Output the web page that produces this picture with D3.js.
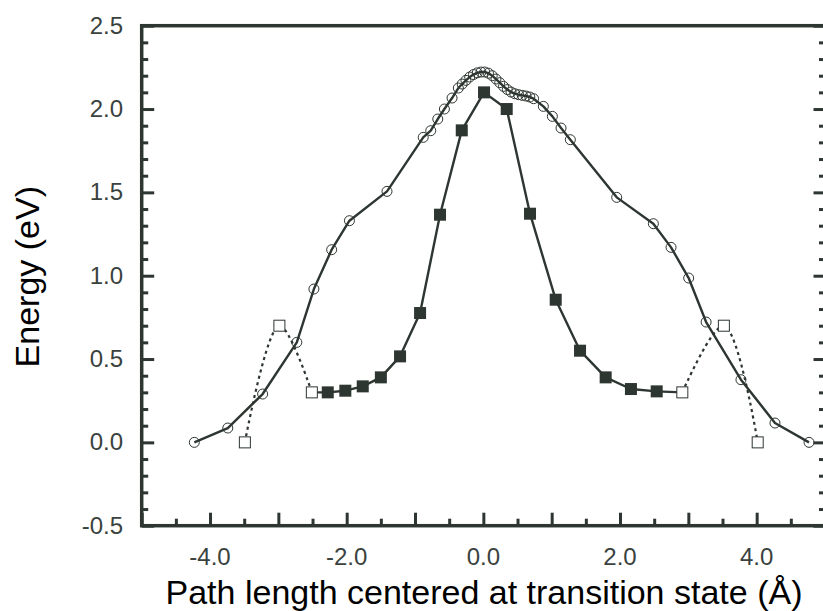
<!DOCTYPE html>
<html>
<head>
<meta charset="utf-8">
<script src="https://cdn.jsdelivr.net/npm/d3@7"></script>
<style>
  body { margin: 0; background: #fff; }
  text { font-family: "Liberation Sans", Arial, sans-serif; }
</style>
</head>
<body>
<svg id="chart" width="823" height="611"></svg>
<script>
// NEB path (open circles, solid line)
var pathX = [-4.23, -3.74, -3.23, -2.73, -2.48, -2.22, -1.96, -1.41, -0.88, -0.77, -0.667, -0.57, -0.458, -0.366,
  -0.31, -0.255, -0.20, -0.145, -0.09, -0.035, 0.02, 0.075, 0.13, 0.185, 0.24, 0.295, 0.35, 0.405, 0.46, 0.515,
  0.57, 0.625, 0.68, 0.735, 0.878, 1.01, 1.137, 1.273, 1.952, 2.488, 2.747, 3.005, 3.26, 3.77, 4.268, 4.766];
var pathY = [0.00, 0.086, 0.29, 0.60, 0.92, 1.156, 1.33, 1.506, 1.83, 1.87, 1.94, 2.00, 2.066, 2.126,
  2.150, 2.172, 2.192, 2.207, 2.217, 2.222, 2.222, 2.215, 2.200, 2.180, 2.158, 2.136, 2.117, 2.102, 2.092, 2.086,
  2.082, 2.078, 2.072, 2.062, 2.016, 1.956, 1.886, 1.816, 1.47, 1.312, 1.17, 0.986, 0.722, 0.376, 0.116, 0.00];

// filled squares (solid line)
var sqX = [-2.277, -2.02, -1.765, -1.50, -1.219, -0.926, -0.634, -0.316, 0.01, 0.342, 0.683, 1.059, 1.415, 1.79, 2.16, 2.537];
var sqY = [0.30, 0.31, 0.336, 0.39, 0.516, 0.776, 1.366, 1.872, 2.10, 2.00, 1.372, 0.856, 0.55, 0.39, 0.32, 0.306];

// open squares (dotted lines)
var leftX = [-3.49, -2.985, -2.51];
var leftY = [0.00, 0.70, 0.30];
var rightX = [2.912, 3.52, 4.015];
var rightY = [0.30, 0.70, 0.00];

var xLabels = [-4, -2, 0, 2, 4];
var yLabels = [-0.5, 0, 0.5, 1, 1.5, 2, 2.5];

var axisColor = "#2d3631";
var svg = d3.select("#chart");

var x = d3.scaleLinear().domain([-5, 5]).range([141.7, 825]);
var y = d3.scaleLinear().domain([-0.5, 2.5]).range([525.7, 25.7]);

function zip(xs, ys) {
  return xs.map(function(v, i) { return [v, ys[i]]; });
}
function fmt(v) {
  return v.toFixed(1).replace("−", "-");
}

var line = d3.line()
  .x(function(d) { return x(d[0]); })
  .y(function(d) { return y(d[1]); });

var curvy = d3.line()
  .x(function(d) { return x(d[0]); })
  .y(function(d) { return y(d[1]); })
  .curve(d3.curveCatmullRom.alpha(0.5));

var xMajor = d3.range(-5, 5.01, 1);
var xMinor = d3.range(-4.5, 5, 1);
var yMajor = d3.range(-0.5, 2.51, 0.5);
var yMinor = d3.range(-0.4, 2.5, 0.1).filter(function(v) {
  return Math.abs(v * 2 - Math.round(v * 2)) > 0.01;
});

function styleAxis(g) {
  g.select(".domain").remove();
  g.selectAll(".tick line").attr("stroke", axisColor).attr("stroke-width", 3);
  g.selectAll(".tick text").remove();
}

// ticks, pointing inward
svg.append("g").attr("transform", "translate(0," + y(-0.5) + ")")
  .call(d3.axisBottom(x).tickValues(xMajor).tickSize(-13)).call(styleAxis);
svg.append("g").attr("transform", "translate(0," + y(-0.5) + ")")
  .call(d3.axisBottom(x).tickValues(xMinor).tickSize(-7)).call(styleAxis);
svg.append("g").attr("transform", "translate(" + x(-5) + ",0)")
  .call(d3.axisLeft(y).tickValues(yMajor).tickSize(-12.5)).call(styleAxis);
svg.append("g").attr("transform", "translate(" + x(-5) + ",0)")
  .call(d3.axisLeft(y).tickValues(yMinor).tickSize(-6.5)).call(styleAxis);
svg.append("g").attr("transform", "translate(" + x(5) + ",0)")
  .call(d3.axisRight(y).tickValues(yMajor).tickSize(-11.5)).call(styleAxis);
svg.append("g").attr("transform", "translate(" + x(5) + ",0)")
  .call(d3.axisRight(y).tickValues(yMinor).tickSize(-6)).call(styleAxis);

// frame
svg.append("rect")
  .attr("x", x(-5)).attr("y", y(2.5))
  .attr("width", x(5) - x(-5)).attr("height", y(-0.5) - y(2.5))
  .attr("fill", "none").attr("stroke", axisColor).attr("stroke-width", 3.5);

// tick labels
svg.append("g").selectAll("text").data(xLabels).enter().append("text")
  .attr("x", function(d) { return x(d); })
  .attr("y", 565)
  .attr("text-anchor", "middle")
  .attr("font-size", 24)
  .attr("fill", "#3a423e")
  .text(fmt);

svg.append("g").selectAll("text").data(yLabels).enter().append("text")
  .attr("x", 123)
  .attr("y", function(d) { return y(d) + 8; })
  .attr("text-anchor", "end")
  .attr("font-size", 24)
  .attr("fill", "#3a423e")
  .text(fmt);

// axis titles
svg.append("text")
  .attr("x", 484).attr("y", 604)
  .attr("text-anchor", "middle")
  .attr("font-size", 34)
  .attr("fill", "#000")
  .text("Path length centered at transition state (Å)");

svg.append("text")
  .attr("transform", "translate(39," + 276.7 + ") rotate(-90)")
  .attr("text-anchor", "middle")
  .attr("font-size", 34)
  .attr("fill", "#000")
  .text("Energy (eV)");

// dotted branches
[zip(leftX, leftY), zip(rightX, rightY)].forEach(function(pts) {
  svg.append("path").datum(pts)
    .attr("d", curvy)
    .attr("fill", "none")
    .attr("stroke", axisColor)
    .attr("stroke-width", 2.2)
    .attr("stroke-dasharray", "3,3.5");
});

// solid lines
var pathPts = zip(pathX, pathY);
svg.append("path").datum(pathPts)
  .attr("d", line)
  .attr("fill", "none")
  .attr("stroke", axisColor)
  .attr("stroke-width", 2.4)
  .attr("stroke-linejoin", "round");

var sqPts = [[leftX[2], leftY[2]]].concat(zip(sqX, sqY), [[rightX[0], rightY[0]]]);
svg.append("path").datum(sqPts)
  .attr("d", line)
  .attr("fill", "none")
  .attr("stroke", axisColor)
  .attr("stroke-width", 2.4)
  .attr("stroke-linejoin", "round");

// markers
svg.append("g").selectAll("circle").data(pathPts).enter().append("circle")
  .attr("cx", function(d) { return x(d[0]); })
  .attr("cy", function(d) { return y(d[1]); })
  .attr("r", 5)
  .attr("fill", "none")
  .attr("stroke", axisColor)
  .attr("stroke-width", 1);

svg.append("g").selectAll("rect").data(zip(sqX, sqY)).enter().append("rect")
  .attr("x", function(d) { return x(d[0]) - 6; })
  .attr("y", function(d) { return y(d[1]) - 6; })
  .attr("width", 12).attr("height", 12)
  .attr("fill", axisColor);

svg.append("g").selectAll("rect").data(zip(leftX, leftY).concat(zip(rightX, rightY))).enter().append("rect")
  .attr("x", function(d) { return x(d[0]) - 5.5; })
  .attr("y", function(d) { return y(d[1]) - 5.5; })
  .attr("width", 11).attr("height", 11)
  .attr("fill", "#fff")
  .attr("stroke", axisColor)
  .attr("stroke-width", 1);
</script>
</body>
</html>
